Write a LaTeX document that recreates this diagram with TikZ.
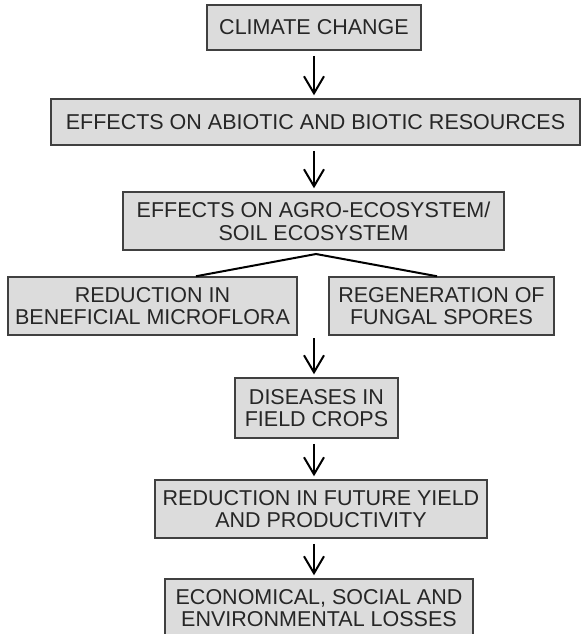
\documentclass[tikz,border=0pt]{standalone}
\usepackage{fontspec}
\setmainfont{Liberation Sans}
\usetikzlibrary{arrows.meta}
\definecolor{kasten}{HTML}{DCDCDC}
\definecolor{rand}{HTML}{404040}
\definecolor{schrift}{HTML}{262626}
\tikzset{
  box/.style={draw=rand,fill=kasten,line width=0.75pt,text=schrift,align=center,inner sep=0pt,
    font=\fontsize{10.75}{11.35}\selectfont},
  pfeil/.style={-{Straight Barb[length=8.5pt,width=10pt]},black,line width=1pt,
    shorten <=2.5pt,shorten >=1.5pt},
  ast/.style={black,line width=1pt},
}

\begin{document}
\begin{tikzpicture}[x=0.5pt,y=-0.5pt]
  \useasboundingbox (0,0) rectangle (583,634);
  \coordinate (spine) at (314,0);
  % boxes
  \node[box,minimum width=107pt,minimum height=22.5pt] (clim) at (314,27.5) {CLIMATE CHANGE};
  \node[box,minimum width=264.5pt,minimum height=23pt] (res) at (315.5,122) {EFFECTS ON ABIOTIC AND BIOTIC RESOURCES};
  \node[box,minimum width=190.5pt,minimum height=29pt] (agro) at (313.5,221) {EFFECTS ON AGRO-ECOSYSTEM/\\SOIL ECOSYSTEM};
  \node[box,minimum width=144.5pt,minimum height=29pt] (micro) at (152.5,306) {REDUCTION IN\\BENEFICIAL MICROFLORA};
  \node[box,minimum width=112.5pt,minimum height=29pt] (spore) at (441.5,306) {REGENERATION OF\\FUNGAL SPORES};
  \node[box,minimum width=81.5pt,minimum height=30pt] (dis) at (316.5,408) {DISEASES IN\\FIELD CROPS};
  \node[box,minimum width=166pt,minimum height=29pt] (yield) at (321,509) {REDUCTION IN FUTURE YIELD\\AND PRODUCTIVITY};
  \node[box,minimum width=154pt,minimum height=29pt] (loss) at (319,608) {ECONOMICAL, SOCIAL AND\\ENVIRONMENTAL LOSSES};
  % branch
  \coordinate (split) at (316,254);
  \coordinate (merge) at (314,338);
  \draw[ast] ([xshift=21.75pt]micro.north) -- (split) -- ([xshift=-2.25pt]spore.north);
  % arrows
  \draw[pfeil] (clim.south -| spine) -- (res.north -| spine);
  \draw[pfeil] (res.south -| spine) -- (agro.north -| spine);
  \draw[pfeil,shorten <=0pt] (merge) -- (dis.north -| spine);
  \draw[pfeil] (dis.south -| spine) -- (yield.north -| spine);
  \draw[pfeil] (yield.south -| spine) -- (loss.north -| spine);
\end{tikzpicture}
\end{document}
